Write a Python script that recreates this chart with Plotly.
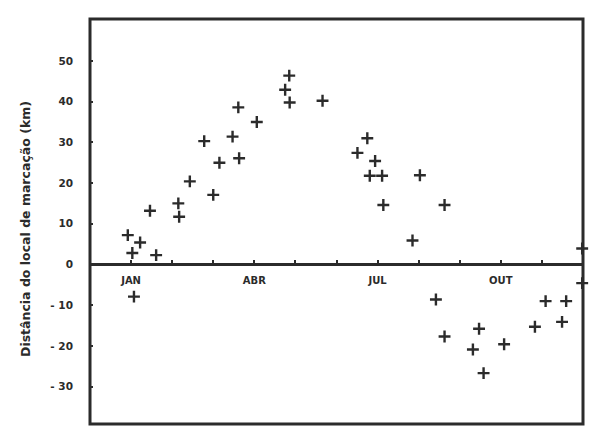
import plotly.graph_objects as go

# Month position (1 = JAN ... 12 = DEZ) and distance from tagging site (km)
month_pos = [0.92, 1.22, 1.03, 1.61, 1.46, 1.07, 2.15, 2.17, 2.43, 2.78,
             3.00, 3.15, 3.47, 3.63, 3.61, 4.06, 4.75, 4.85, 4.86, 5.66,
             6.51, 6.75, 6.94, 6.81, 7.11, 7.14, 7.85, 8.03, 8.63, 8.42,
             8.63, 9.32, 9.47, 9.58, 10.08, 10.83, 11.09, 11.49, 11.59,
             11.98, 11.98]
distance_km = [7.2, 5.4, 2.8, 2.3, 13.2, -7.9, 15.0, 11.7, 20.4, 30.3,
               17.1, 25.0, 31.4, 26.1, 38.6, 35.0, 42.9, 46.4, 39.8, 40.2,
               27.4, 31.0, 25.4, 21.8, 21.8, 14.6, 5.9, 21.9, 14.6, -8.6,
               -17.7, -20.9, -15.8, -26.7, -19.6, -15.3, -9.0, -14.1, -9.0,
               3.9, -4.6]

month_ticks = list(range(1, 13))
month_labels = ["JAN", "", "", "ABR", "", "", "JUL", "", "", "OUT", "", ""]
y_ticks = [50, 40, 30, 20, 10, 0, -10, -20, -30]
y_labels = ["50", "40", "30", "20", "10", "0", "- 10", "- 20", "- 30"]

Y_MIN, Y_MAX = -39.2, 60.3
INK = "#2b2b2b"

fig = go.Figure()
fig.add_trace(go.Scatter(
    x=month_pos, y=distance_km, mode="markers", cliponaxis=False,
    marker=dict(symbol="cross-thin", size=8.5,
                line=dict(width=2.4, color=INK), color=INK),
    showlegend=False, hoverinfo="x+y"))

zero_frac = (0 - Y_MIN) / (Y_MAX - Y_MIN)

fig.update_layout(
    width=600, height=447,
    margin=dict(l=82, r=25, t=11, b=31),
    paper_bgcolor="white", plot_bgcolor="white",
    font=dict(family="DejaVu Sans, Arial, sans-serif", color=INK, size=10),
    xaxis=dict(range=[0, 12], anchor="free", position=zero_frac,
               tickvals=month_ticks, ticktext=month_labels,
               ticks="inside", ticklen=4, tickwidth=1.5, tickcolor=INK,
               showline=False, showgrid=False, zeroline=False,
               tickfont=dict(size=10, weight="bold", color=INK),
               ticklabelstandoff=9),
    yaxis=dict(range=[Y_MIN, Y_MAX], tickvals=y_ticks, ticktext=y_labels,
               ticks="inside", ticklen=3, tickwidth=1.5, tickcolor=INK,
               showline=False, showgrid=False,
               zeroline=True, zerolinewidth=2.5, zerolinecolor=INK,
               tickfont=dict(size=10.5, weight="bold", color=INK),
               ticklabelstandoff=16),
    shapes=[dict(type="rect", xref="paper", yref="paper", layer="below",
                 x0=0, x1=1, y0=0, y1=1,
                 line=dict(color=INK, width=3))],
    annotations=[dict(text="Distância do local de marcação (km)",
                      xref="paper", yref="paper",
                      x=(25 - 90) / 493, y=(424 - 229) / 405,
                      textangle=-90, showarrow=False,
                      font=dict(size=12.5, color=INK, weight="bold"),
                      xanchor="center", yanchor="middle")],
)

fig.write_html("out.html")
